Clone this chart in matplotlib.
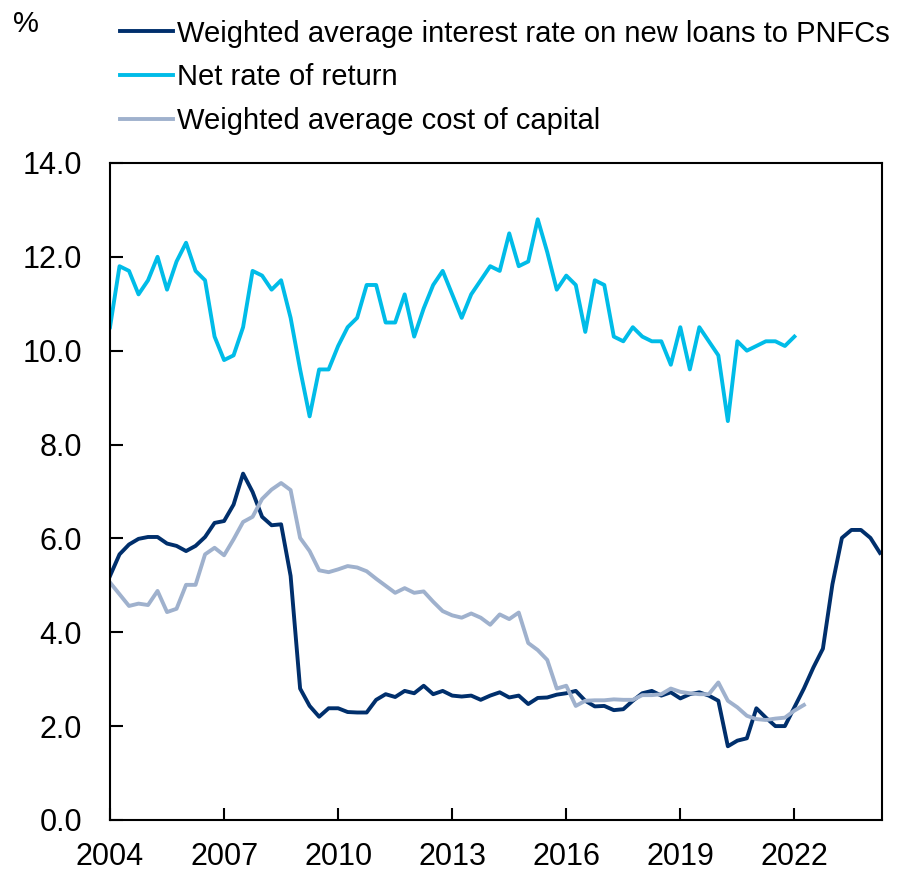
import numpy as np
import matplotlib.pyplot as plt

plt.rcParams['font.family'] = ['Liberation Sans', 'DejaVu Sans']

# quarterly data, first point 2004 Q1
interest_rate = [5.2, 5.66, 5.87, 5.99,
                 6.03, 6.03, 5.89, 5.84,
                 5.73, 5.84, 6.03, 6.33,
                 6.37, 6.72, 7.38, 6.99,
                 6.46, 6.28, 6.3, 5.2,
                 2.8, 2.43, 2.2, 2.38,
                 2.38, 2.3, 2.29, 2.29,
                 2.56, 2.68, 2.62, 2.75,
                 2.7, 2.86, 2.68, 2.75,
                 2.65, 2.63, 2.65, 2.56,
                 2.65, 2.72, 2.61, 2.65,
                 2.47, 2.6, 2.61, 2.67,
                 2.7, 2.75, 2.54, 2.42,
                 2.43, 2.34, 2.36, 2.54,
                 2.7, 2.75, 2.65, 2.72,
                 2.59, 2.68, 2.72, 2.65,
                 2.54, 1.57, 1.69, 1.74,
                 2.38, 2.18, 2.0, 2.0,
                 2.4, 2.8, 3.25, 3.65,
                 5.02, 6.01, 6.18, 6.18,
                 6.01, 5.69]

net_return = [10.5, 11.8, 11.7, 11.2,
              11.5, 12.0, 11.3, 11.9,
              12.3, 11.7, 11.5, 10.3,
              9.8, 9.9, 10.5, 11.7,
              11.6, 11.3, 11.5, 10.7,
              9.6, 8.6, 9.6, 9.6,
              10.1, 10.5, 10.7, 11.4,
              11.4, 10.6, 10.6, 11.2,
              10.3, 10.9, 11.4, 11.7,
              11.2, 10.7, 11.2, 11.5,
              11.8, 11.7, 12.5, 11.8,
              11.9, 12.8, 12.1, 11.3,
              11.6, 11.4, 10.4, 11.5,
              11.4, 10.3, 10.2, 10.5,
              10.3, 10.2, 10.2, 9.7,
              10.5, 9.6, 10.5, 10.2,
              9.9, 8.5, 10.2, 10.0,
              10.1, 10.2, 10.2, 10.1,
              10.3]

wacc = [5.06, 4.81, 4.56, 4.61,
        4.58, 4.88, 4.43, 4.5,
        5.01, 5.01, 5.66, 5.8,
        5.64, 5.98, 6.35, 6.46,
        6.84, 7.04, 7.18, 7.03,
        6.01, 5.73, 5.32, 5.28,
        5.34, 5.41, 5.38, 5.3,
        5.14, 4.99, 4.84, 4.94,
        4.84, 4.87, 4.65, 4.45,
        4.36, 4.31, 4.4, 4.31,
        4.16, 4.38, 4.28, 4.42,
        3.77, 3.62, 3.41, 2.8,
        2.86, 2.43, 2.54, 2.55,
        2.55, 2.57, 2.56, 2.56,
        2.66, 2.66, 2.68, 2.8,
        2.73, 2.7, 2.68, 2.68,
        2.93, 2.54, 2.4, 2.22,
        2.15, 2.13, 2.16, 2.18,
        2.33, 2.45]

labels = ['Weighted average interest rate on new loans to PNFCs',
          'Net rate of return',
          'Weighted average cost of capital']
colors = ['#002F6C', '#00BCE8', '#9FB1CD']
year_ticks = [2004, 2007, 2010, 2013, 2016, 2019, 2022]


def quarters(n):
    return 2004 + np.arange(n) * 0.25


fig = plt.figure(figsize=(8.98, 8.71), dpi=100)
ax = fig.add_axes([0.1225, 0.0586, 0.8595, 0.7543])

for series, lab, col in zip([interest_rate, net_return, wacc], labels, colors):
    ax.plot(quarters(len(series)), series, color=col, lw=2.8, label=lab)

ax.set_xlim(2004, 2024.3)
ax.set_ylim(0, 14)
ax.set_xticks(year_ticks)
ax.set_xticklabels([str(y) for y in year_ticks])
ax.set_yticks(np.arange(0, 14.1, 2))
ax.set_yticklabels(['%.1f' % v for v in np.arange(0, 14.1, 2)])
ax.tick_params(direction='in', length=9, width=1.5, labelsize=22)
ax.tick_params(axis='y', pad=20)
ax.tick_params(axis='x', pad=16)
for s in ax.spines.values():
    s.set_linewidth(1.5)

fig.text(0.014, 0.973, '%', fontsize=21, va='center')
fig.legend(loc='upper left', bbox_to_anchor=(0.121, 0.991), frameon=False,
           fontsize=21, handlelength=1.8, handletextpad=0.16, labelspacing=0.54,
           borderaxespad=0)

fig.savefig('out.png', dpi=100)
